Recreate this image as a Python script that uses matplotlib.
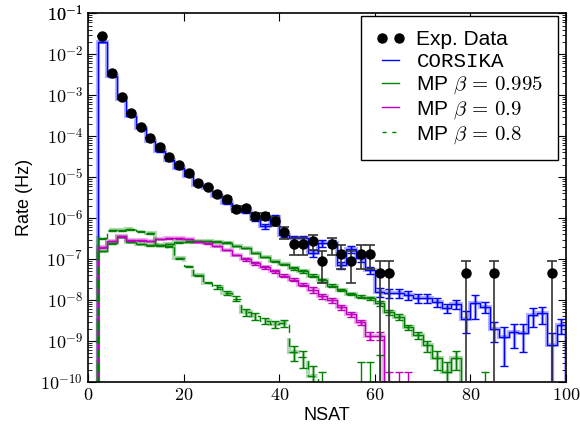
import numpy as np
import matplotlib.pyplot as plt
from matplotlib.lines import Line2D
from matplotlib.ticker import FuncFormatter, FixedLocator, NullFormatter

plt.rcParams['mathtext.fontset'] = 'cm'
plt.rcParams['font.family'] = ['Liberation Sans', 'DejaVu Sans']

# histogram binning (NSAT), bins of width 2
edges = np.arange(2, 101, 2)
centers = edges[:-1] + 1

# experimental data: NSAT, rate (Hz), error (Hz)
exp_x = [3, 5, 7, 9, 11, 13, 15, 17, 19, 21, 23, 25, 27, 29, 31, 33, 35, 37, 39, 41,
         43, 45, 47, 49, 51, 53, 55, 57, 59, 61, 63, 79, 85, 97]
exp_rate = [2.75e-2, 3.5e-3, 8.9e-4, 3.6e-4, 1.66e-4, 8.9e-5, 5.4e-5, 3.1e-5, 1.95e-5, 1.26e-5,
            7.1e-6, 5.75e-6, 3.9e-6, 2.9e-6, 1.66e-6, 1.74e-6, 1.12e-6, 1.12e-6, 8.5e-7, 4.6e-7,
            2.3e-7, 2.3e-7, 2.75e-7, 9.1e-8, 2.3e-7, 1.37e-7, 9.1e-8, 1.37e-7, 1.37e-7, 4.6e-8,
            4.6e-8, 4.6e-8, 4.6e-8, 4.6e-8]
exp_err = [0, 0, 0, 0, 0, 0, 0, 0, 0, 0,
           5e-7, 4.5e-7, 4e-7, 3.6e-7, 2.8e-7, 2.8e-7, 2.3e-7, 2.3e-7, 2.0e-7, 1.45e-7,
           1.05e-7, 1.05e-7, 1.12e-7, 6.5e-8, 1.05e-7, 7.9e-8, 6.5e-8, 7.9e-8, 7.9e-8, 4.6e-8,
           4.6e-8, 4.6e-8, 4.6e-8, 4.6e-8]

# CORSIKA, log10(rate) per bin and relative error
corsika_log = [-1.71, -2.54, -3.10, -3.51, -3.80, -4.12, -4.37, -4.59, -4.78, -4.97,
               -5.18, -5.27, -5.45, -5.62, -5.78, -5.85, -6.00, -6.20, -5.98, -6.40,
               -6.49, -6.49, -6.85, -6.60, -6.60, -7.15, -6.76, -6.98, -7.27, -7.80,
               -7.83, -7.83, -7.88, -7.95, -7.95, -8.05, -8.20, -8.10, -8.46, -8.07,
               -8.17, -8.71, -8.90, -8.78, -8.80, -8.37, -8.32, -9.10, -8.60]
corsika_rel = [0.01] * 6 + [0.03] * 6 + [0.08] * 4 + [0.15] * 6 + [0.2] * 7 + [0.25] * 9 + \
              [0.55, 0.6, 0.3, 0.5, 0.8, 0.6, 0.65, 0.48, 0.45, 1.0, 0.4]

# MP beta = 0.995
mp995_log = [-6.80, -6.61, -6.46, -6.58, -6.63, -6.66, -6.66, -6.63, -6.59, -6.57,
             -6.56, -6.56, -6.57, -6.60, -6.68, -6.73, -6.85, -6.95, -7.05, -7.13,
             -7.22, -7.30, -7.40, -7.52, -7.65, -7.75, -7.85, -7.92, -7.95, -8.07,
             -8.29, -8.41, -8.66, -8.85, -9.10, -9.41, -9.76, -9.41] + [-13] * 11
mp995_rel = [0.02] * 20 + [0.08] * 9 + [0.15] * 4 + [0.2, 0.3, 0.5, 0.8, 0.5] + [0] * 11
mp995_caps = {83: -9.76}

# MP beta = 0.9
mp09_log = [-6.71, -6.56, -6.44, -6.54, -6.54, -6.56, -6.51, -6.49, -6.49, -6.51,
            -6.58, -6.61, -6.68, -6.78, -6.90, -7.00, -7.10, -7.20, -7.30, -7.40,
            -7.50, -7.62, -7.75, -7.90, -8.00, -8.17, -8.35, -8.54, -8.87, -8.87] + [-13] * 19
mp09_rel = [0.02] * 15 + [0.08] * 7 + [0.15] * 6 + [0.22] * 2 + [0] * 19
mp09_caps = {63: -9.76, 65: -9.76, 67: -9.76}

# MP beta = 0.8
mp08_log = [-6.49, -6.30, -6.30, -6.27, -6.32, -6.37, -6.66, -6.70, -6.98, -7.17,
            -7.39, -7.57, -7.68, -7.82, -7.96, -8.29, -8.39, -8.50, -8.59, -8.56,
            -9.27, -9.39, -9.85] + [-13] * 26
mp08_rel = [0.03] * 12 + [0.12] * 3 + [0.18] * 5 + [0.4, 0.45, 0.8] + [0] * 26
mp08_caps = {49: -9.76, 57: -9.52, 59: -9.52, 61: -9.35}

y_decades = list(range(-10, 0))
floor = 1e-13


def draw_hist(ax, logv, rel, color, ls='-', caps=None):
    vals = 10.0 ** np.array(logv)
    rel = np.array(rel)
    ax.stairs(vals, edges, baseline=floor, color=color, lw=3, alpha=0.3, ls=ls)
    ax.stairs(vals, edges, baseline=floor, color=color, lw=1, ls=ls)
    show = rel > 0
    err = vals * rel
    ax.errorbar(centers[show], vals[show], yerr=err[show], fmt='none',
                ecolor=color, elinewidth=2.5, capsize=0, alpha=0.3)
    ax.errorbar(centers[show], vals[show], yerr=err[show], fmt='none',
                ecolor=color, elinewidth=1, capsize=3, capthick=1)
    if caps:
        cx = np.array(list(caps.keys()))
        cy = 10.0 ** np.array(list(caps.values()))
        ax.errorbar(cx, np.full(len(cx), floor), yerr=[np.zeros(len(cx)), cy],
                    fmt='none', ecolor=color, elinewidth=1, capsize=3, capthick=1)


fig = plt.figure(figsize=(5.8, 4.26), dpi=100)
ax = fig.add_axes([0.152, 0.103, 0.824, 0.866])
ax.set_yscale('log')

draw_hist(ax, corsika_log, corsika_rel, 'b')
draw_hist(ax, mp995_log, mp995_rel, 'g', caps=mp995_caps)
draw_hist(ax, mp09_log, mp09_rel, 'm', caps=mp09_caps)
draw_hist(ax, mp08_log, mp08_rel, 'g', ls=(0, (6, 4)), caps=mp08_caps)

ax.errorbar(exp_x, exp_rate, yerr=exp_err, fmt='o', color='k', ms=6.5,
            ecolor='0.2', elinewidth=1.2, capsize=3.5, capthick=1.2, zorder=5)

ax.set_xlim(0, 100)
ax.set_ylim(1e-10, 1e-1)
ax.set_xticks([0, 20, 40, 60, 80, 100])
ax.xaxis.set_major_formatter(FuncFormatter(lambda v, p: r'$%d$' % v))
major = [10.0 ** d for d in y_decades + [-1]]
minor = [m * 10.0 ** d for d in y_decades for m in range(2, 10)]
ax.yaxis.set_major_locator(FixedLocator(major))
ax.yaxis.set_minor_locator(FixedLocator(minor))
ax.yaxis.set_major_formatter(FuncFormatter(lambda v, p: r'$10^{%d}$' % round(np.log10(v))))
ax.yaxis.set_minor_formatter(NullFormatter())
ax.tick_params(which='both', direction='in', top=True, right=True, labelsize=13)
ax.tick_params(which='major', length=6)
ax.tick_params(which='minor', length=3)
for s in ax.spines.values():
    s.set_linewidth(1.2)

ax.set_xlabel('NSAT', fontsize=13, labelpad=2)
ax.set_ylabel('Rate (Hz)', fontsize=13, labelpad=5)

handles = [
    Line2D([], [], color='k', marker='o', ls='none', ms=6.5),
    Line2D([], [], color='b', lw=1),
    Line2D([], [], color='g', lw=1),
    Line2D([], [], color='m', lw=1),
    Line2D([], [], color='g', lw=1, ls=(0, (3, 4))),
]
labels = ['Exp. Data', 'CORSIKA', r'MP $\beta\,=\,0.995$', r'MP $\beta\,=\,0.9$',
          r'MP $\beta\,=\,0.8$']
leg = ax.legend(handles, labels, loc='upper right', bbox_to_anchor=(0.983, 0.993),
                borderaxespad=0, numpoints=2, fontsize=15, fancybox=False,
                framealpha=1, edgecolor='k', handlelength=1.4, handletextpad=0.55,
                labelspacing=0.15, borderpad=0.7)
leg.get_frame().set_linewidth(1.0)
leg.get_texts()[1].set_family('Liberation Mono')

fig.savefig('out.png', dpi=100)
